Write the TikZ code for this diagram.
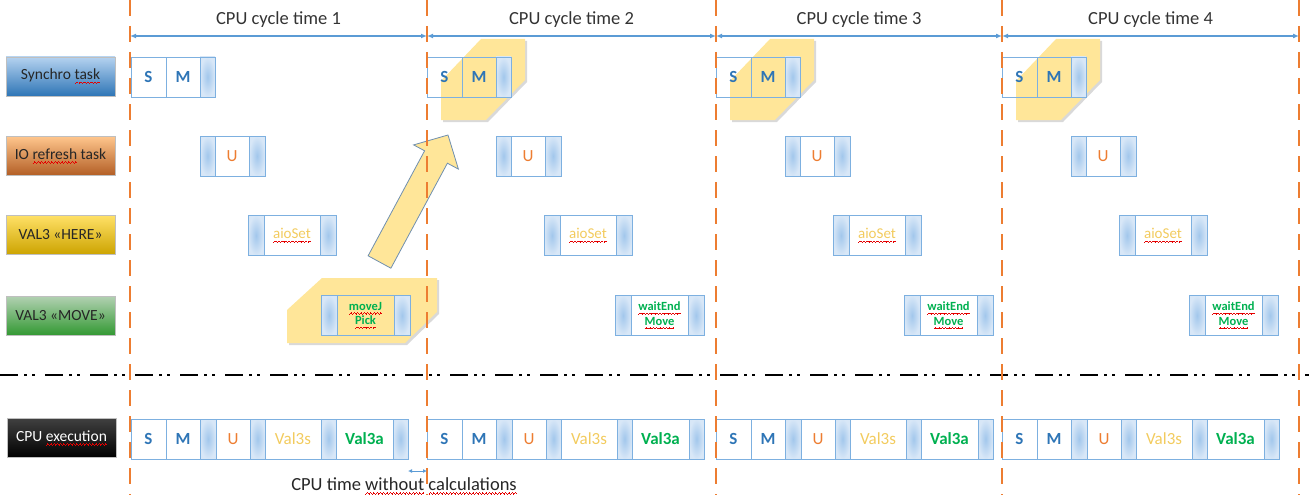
\documentclass[tikz,border=0pt]{standalone}
\usepackage{fontspec}
\setmainfont{Carlito}
\usepackage{tikz}
\usetikzlibrary{arrows.meta,positioning,shadows,calc}
\definecolor{cpblue}{HTML}{2E75B6}
\definecolor{cpline}{HTML}{5B9BD5}
\definecolor{cellline}{HTML}{7DB0E0}
\definecolor{cporange}{HTML}{ED7D31}
\definecolor{cpgold}{HTML}{F2CB5E}
\definecolor{cpgreen}{HTML}{00B050}
\definecolor{cpyellow}{HTML}{FFE699}
\definecolor{capin}{HTML}{A2C7EC}
\definecolor{capout}{HTML}{D8E7F7}
\definecolor{arrowedge}{HTML}{6F8FAF}
% red spell-check wave under a word (small rules, no glyphs)
\newcommand\spellbit{\rule[-3.8pt]{0.8pt}{0.7pt}\rule[-3.2pt]{0.8pt}{0.7pt}%
  \rule[-2.6pt]{0.8pt}{0.7pt}\rule[-3.2pt]{0.8pt}{0.7pt}}
\newcommand\spell[1]{\setbox0\hbox{#1}\leavevmode
  \rlap{\color{red!90!black}\hbox to \wd0{\xleaders\hbox{\spellbit}\hfil}}\box0\relax}

\begin{document}
\begin{tikzpicture}[
  x=1pt, y=-1pt,
  font=\fontsize{15.5}{18}\selectfont,
  cell/.style={draw=cellline, line width=0.8pt, minimum width=#1, minimum height=40pt,
               inner sep=0pt, outer sep=0pt, anchor=west, align=center},
  endcap/.style={cell=#1, inner color=capin, outer color=capout},
  endcap/.default=15pt,
  tasklabel/.style={minimum width=109pt, minimum height=39pt, inner sep=0pt,
                    text=black!85, draw=white!75!black, line width=0.3pt},
  bluet/.style={text=cpblue, font=\fontsize{17}{20}\selectfont\bfseries},
  oranget/.style={text=cporange, font=\fontsize{17}{20}\selectfont},
  goldt/.style={text=cpgold, font=\fontsize{17}{20}\selectfont},
  greent/.style={text=cpgreen, font=\fontsize{17}{20}\selectfont\bfseries},
  movet/.style={text=cpgreen, font=\fontsize{12.5}{14.5}\selectfont\bfseries},
  aiot/.style={text=cpgold, font=\fontsize{15}{18}\selectfont},
  yellowhex/.style={fill=cpyellow, drop shadow={shadow xshift=2pt, shadow yshift=-2pt, opacity=0.3}},
  cycleline/.style={cporange, line width=2pt, dash pattern=on 16pt off 10pt},
  dimarrow/.style={{Latex[length=6pt,width=5pt]}-{Latex[length=6pt,width=5pt]}, cpline, line width=1.3pt},
  splitline/.style={line width=1.8pt, dash pattern=on 18pt off 6pt on 3pt off 5pt on 3pt off 10pt}
]
\useasboundingbox (0,0) rectangle (1309,495);

% yellow highlights behind the blocks
\foreach \x in {427,716,1002}
  \fill[yellowhex] (\x+54,39) -- (\x+98,39) -- (\x+98,80) -- (\x+59,120)
    -- (\x+14,120) -- (\x+14,81) -- cycle;
\fill[yellowhex] (322,278) -- (437,278) -- (437,312) -- (405,343) -- (287,343) -- (287,310) -- cycle;
\filldraw[fill=cpyellow, draw=arrowedge, line width=0.8pt]
  (368.1,255.8) -- (424.6,150.8) -- (413.6,144.9) -- (448,135)
  -- (458.4,169.1) -- (447.4,163.2) -- (390.9,268.2) -- cycle;

% row labels
\node[tasklabel, top color=capin!80!white, bottom color=cpblue] (synchro) at (60.5,76.5) {Synchro \spell{task}};
\node[tasklabel, top color=orange!45!white, bottom color=cporange!75!black] (iorefresh) at (60.5,156) {IO \spell{refresh} task};
\node[tasklabel, top color=yellow!60!orange!60!white, bottom color=yellow!60!orange!80!black] (here) at (60.5,235) {VAL3 «HERE»};
\node[tasklabel, top color=green!40!black!30!white, bottom color=green!50!black!80] (move) at (60.5,315.5) {VAL3 «MOVE»};
\node[tasklabel, top color=black!75, bottom color=black, text=white] (cpu) at (61.5,438) {CPU \spell{execution}};

% task blocks per cycle
\foreach \c/\x/\mx/\mt in {1/131/190/{\spell{moveJ}\\\spell{Pick}},
                          2/427/188/{\spell{waitEnd}\\\spell{Move}},
                          3/716/188/{\spell{waitEnd}\\\spell{Move}},
                          4/1002/187/{\spell{waitEnd}\\\spell{Move}}} {
  \node[cell=35pt, bluet] (s\c) at (\x,77) {S};
  \node[cell=34pt, bluet, right=0pt of s\c] (m\c) {M};
  \node[endcap, right=0pt of m\c] (sx\c) {};

  \node[endcap] (ua\c) at (\x+69,156) {};
  \node[cell=34pt, oranget, right=0pt of ua\c] (u\c) {U};
  \node[endcap=16pt, right=0pt of u\c] (ub\c) {};

  \node[endcap=16pt] (ha\c) at (\x+117,235.5) {};
  \node[cell=56pt, aiot, right=0pt of ha\c] (aio\c) {\spell{aioSet}};
  \node[endcap=16pt, right=0pt of aio\c] (hb\c) {};

  \node[endcap=16pt] (ma\c) at (\x+\mx,315.5) {};
  \node[cell=57pt, movet, right=0pt of ma\c] (mv\c) {\mt};
  \node[endcap=16pt, right=0pt of mv\c] (mb\c) {};

  \node[cell=35pt, bluet] (cpuS\c) at (\x,439) {S};
  \node[cell=34pt, bluet, right=0pt of cpuS\c] (cpuM\c) {M};
  \node[endcap=16pt, right=0pt of cpuM\c] (cpuX\c) {};
  \node[cell=34pt, oranget, right=0pt of cpuX\c] (cpuU\c) {U};
  \node[endcap, right=0pt of cpuU\c] (cpuY\c) {};
  \node[cell=56pt, goldt, right=0pt of cpuY\c] (cpuV\c) {Val3s};
  \node[endcap, right=0pt of cpuV\c] (cpuZ\c) {};
  \node[cell=57pt, greent, right=0pt of cpuZ\c] (cpuA\c) {Val3a};
  \node[endcap, right=0pt of cpuA\c] (cpuE\c) {};
}

% separator
\coordinate (sepl) at (0,375);
\coordinate (sepr) at (1309,375);
\draw[splitline] (sepl) -- (sepr);

% cycle boundaries and cycle times
\foreach \i/\x in {0/130,1/427,2/716,3/1002,4/1299} {
  \coordinate (ct\i) at (\x,0);
  \coordinate (cb\i) at (\x,495);
  \coordinate (d\i) at (\x,36);
  \draw[cycleline] (ct\i) -- (cb\i);
}
\foreach \i/\j in {0/1,1/2,2/3,3/4}
  \draw[dimarrow] (d\i) -- node[above=5pt, text=black!80, font=\fontsize{18.5}{20}\selectfont] (cyc\j) {CPU cycle time \j} (d\j);

% idle time
\coordinate (idle0) at (cpuE1.east |- 0,471);
\coordinate (idle1) at (427,471);
\draw[cpline, line width=1pt, {Latex[length=4pt,width=4pt]}-{Latex[length=4pt,width=4pt]}] (idle0) -- (idle1);
\node[text=black!85, font=\fontsize{18.5}{20}\selectfont] (idle) at (404,486)
  {CPU time \spell{without} \spell{calculations}};

\end{tikzpicture}
\end{document}
